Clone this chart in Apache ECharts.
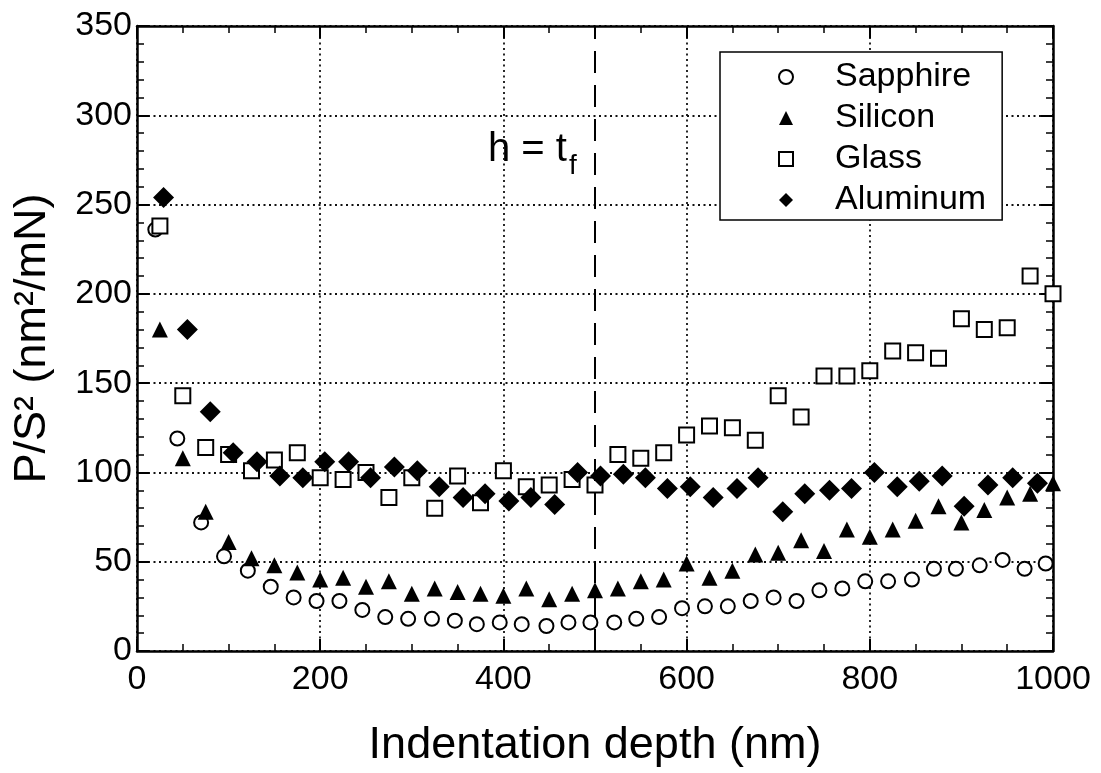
<!DOCTYPE html>
<html>
<head>
    <meta charset="utf-8">
    <title>ECharts</title>
    <script type="text/javascript" src="https://cdn.jsdelivr.net/npm/echarts@6/dist/echarts.min.js"></script>
    <style>
        html, body { margin: 0; padding: 0; background: #fff; }
    </style>
</head>
<body>
<div id="main" style="width:1101px; height:773px;"></div>
<script type="text/javascript">
    // indentation depth (nm) and P/S^2 (nm^2/mN)
    var sapphireX = [20, 44, 70, 95, 121, 146, 171, 196, 221, 246, 271, 296, 322, 347, 371, 396, 420, 447, 471, 495,
                     521, 545, 570, 595, 620, 645, 670, 695, 720, 745, 770, 795, 820, 846, 870, 894, 920, 945, 969, 992];
    var sapphireY = [236, 119, 72, 53, 45, 36, 30, 28, 28, 23, 19, 18, 18, 17, 15, 16, 15, 14, 16, 16,
                     16, 18, 19, 24, 25, 25, 28, 30, 28, 34, 35, 39, 39, 40, 46, 46, 48, 51, 46, 49];

    var siliconX = [25, 50, 75, 100, 125, 150, 175, 200, 225, 250, 275, 300, 325, 350, 375, 400, 425, 450, 475, 500,
                    525, 550, 575, 600, 625, 650, 675, 700, 725, 750, 775, 800, 825, 850, 875, 900, 925, 950, 975, 1000];
    var siliconY = [180, 108, 78, 61, 52, 48, 44, 40, 41, 36, 39, 32, 35, 33, 32, 31, 35, 29, 32, 34,
                    35, 39, 40, 49, 41, 45, 54, 55, 62, 56, 68, 64, 68, 73, 81, 72, 79, 86, 88, 94];

    var glassX = [25, 50, 75, 100, 125, 150, 175, 200, 225, 250, 275, 300, 325, 350, 375, 400, 425, 450, 475, 500,
                  525, 550, 575, 600, 625, 650, 675, 700, 725, 750, 775, 800, 825, 850, 875, 900, 925, 950, 975, 1000];
    var glassY = [238, 143, 114, 110, 101, 107, 111, 97, 96, 100, 86, 97, 80, 98, 83, 101, 92, 93, 96, 93,
                  110, 108, 111, 121, 126, 125, 118, 143, 131, 154, 154, 157, 168, 167, 164, 186, 180, 181, 210, 200];

    var aluminumX = [29, 55, 80, 105, 131, 156, 181, 205, 231, 255, 281, 306, 330, 356, 380, 406, 430, 456, 481, 506,
                     531, 555, 579, 604, 629, 655, 678, 705, 729, 756, 780, 805, 830, 854, 879, 903, 929, 956, 983];
    var aluminumY = [254, 180, 134, 111, 106, 98, 97, 106, 106, 97, 103, 101, 92, 86, 88, 84, 86, 82, 100, 98,
                     99, 97, 91, 92, 86, 91, 97, 78, 88, 90, 91, 100, 92, 95, 98, 81, 93, 97, 94];

    var xTicks = [0, 200, 400, 600, 800, 1000];
    var yTicks = [0, 50, 100, 150, 200, 250, 300, 350];
    var filmDepth = 500;

    function pairs(xs, ys) {
        return xs.map(function (x, i) { return [x, ys[i]]; });
    }

    var font = 'Liberation Sans, Arial, Helvetica, sans-serif';
    var ink = '#000';

    function axisCommon(showLabel) {
        return {
            axisLine: { show: true, onZero: false, lineStyle: { color: ink, width: 2.5 } },
            axisTick: { show: true, inside: true, length: 12, lineStyle: { color: ink, width: 2 } },
            minorTick: { show: true, length: 7, lineStyle: { color: ink, width: 1.5 } },
            axisLabel: {
                show: showLabel, color: ink, fontSize: 34, fontFamily: font,
                formatter: function (v) { return String(v); }
            },
            splitLine: { show: false }
        };
    }

    var gridDots = { show: true, lineStyle: { color: '#111', width: 1.8, type: [2, 3.5] } };

    var myChart = echarts.init(document.getElementById('main'));

    var xBottom = axisCommon(true);
    xBottom.type = 'value';
    xBottom.position = 'bottom';
    xBottom.min = xTicks[0];
    xBottom.max = xTicks[xTicks.length - 1];
    xBottom.interval = 200;
    xBottom.minorTick.splitNumber = 4;
    xBottom.axisLabel.margin = 12;
    xBottom.splitLine = gridDots;
    xBottom.name = 'Indentation depth (nm)';
    xBottom.nameLocation = 'middle';
    xBottom.nameGap = 72;
    xBottom.nameTextStyle = { color: ink, fontSize: 45, fontFamily: font };

    var xTop = axisCommon(false);
    xTop.type = 'value';
    xTop.position = 'top';
    xTop.min = 0; xTop.max = 1000; xTop.interval = 200;
    xTop.minorTick.splitNumber = 4;

    var yLeft = axisCommon(true);
    yLeft.type = 'value';
    yLeft.position = 'left';
    yLeft.min = yTicks[0];
    yLeft.max = yTicks[yTicks.length - 1];
    yLeft.interval = 50;
    yLeft.minorTick.splitNumber = 5;
    yLeft.axisLabel.margin = 5;
    yLeft.splitLine = gridDots;
    yLeft.name = 'P/S\u00b2 (nm\u00b2/mN)';
    yLeft.nameLocation = 'middle';
    yLeft.nameGap = 82;
    yLeft.nameRotate = 90;
    yLeft.nameTextStyle = { color: ink, fontSize: 45, fontFamily: font };

    var yRight = axisCommon(false);
    yRight.type = 'value';
    yRight.position = 'right';
    yRight.min = 0; yRight.max = 350; yRight.interval = 50;
    yRight.minorTick.splitNumber = 5;

    var hollow = { color: '#fff', borderColor: ink, borderWidth: 2, opacity: 1 };
    var solid = { color: ink, opacity: 1 };

    var option = {
        backgroundColor: '#fff',
        animation: false,
        textStyle: { fontFamily: font },
        grid: { left: 137, top: 26, width: 916, height: 634 },
        xAxis: [xBottom, xTop],
        yAxis: [yLeft, yRight],
        legend: {
            orient: 'vertical',
            left: 720,
            top: 52,
            backgroundColor: '#fff',
            borderColor: ink,
            borderWidth: 1.5,
            borderRadius: 0,
            padding: [8, 16, 3, 58],
            itemGap: 7,
            itemWidth: 14,
            itemHeight: 14,
            textStyle: { color: ink, fontSize: 34, fontFamily: font, padding: [0, 0, 0, 37] },
            data: [
                { name: 'Sapphire', icon: 'circle' },
                { name: 'Silicon', icon: 'triangle' },
                { name: 'Glass', icon: 'rect' },
                { name: 'Aluminum', icon: 'diamond' }
            ]
        },
        graphic: [{
            type: 'text',
            left: 488,
            top: 130,
            style: {
                text: 'h = t{sub|f}',
                fill: ink,
                font: '40px ' + font,
                rich: {
                    sub: { fontSize: 28, fontFamily: font, fill: ink, padding: [32, 0, 0, 2] }
                }
            }
        }],
        series: [
            {
                name: 'Sapphire', type: 'scatter', symbol: 'circle', symbolSize: 14,
                itemStyle: hollow, data: pairs(sapphireX, sapphireY),
                markLine: {
                    silent: true, symbol: 'none', label: { show: false },
                    lineStyle: { color: ink, width: 2, type: [22, 12] },
                    data: [{ xAxis: filmDepth }]
                }
            },
            {
                name: 'Silicon', type: 'scatter', symbol: 'triangle', symbolSize: 16,
                itemStyle: solid, data: pairs(siliconX, siliconY)
            },
            {
                name: 'Glass', type: 'scatter', symbol: 'rect', symbolSize: 15,
                itemStyle: hollow, data: pairs(glassX, glassY)
            },
            {
                name: 'Aluminum', type: 'scatter', symbol: 'diamond', symbolSize: 21,
                itemStyle: solid, data: pairs(aluminumX, aluminumY)
            }
        ]
    };

    myChart.setOption(option);
</script>
</body>
</html>
